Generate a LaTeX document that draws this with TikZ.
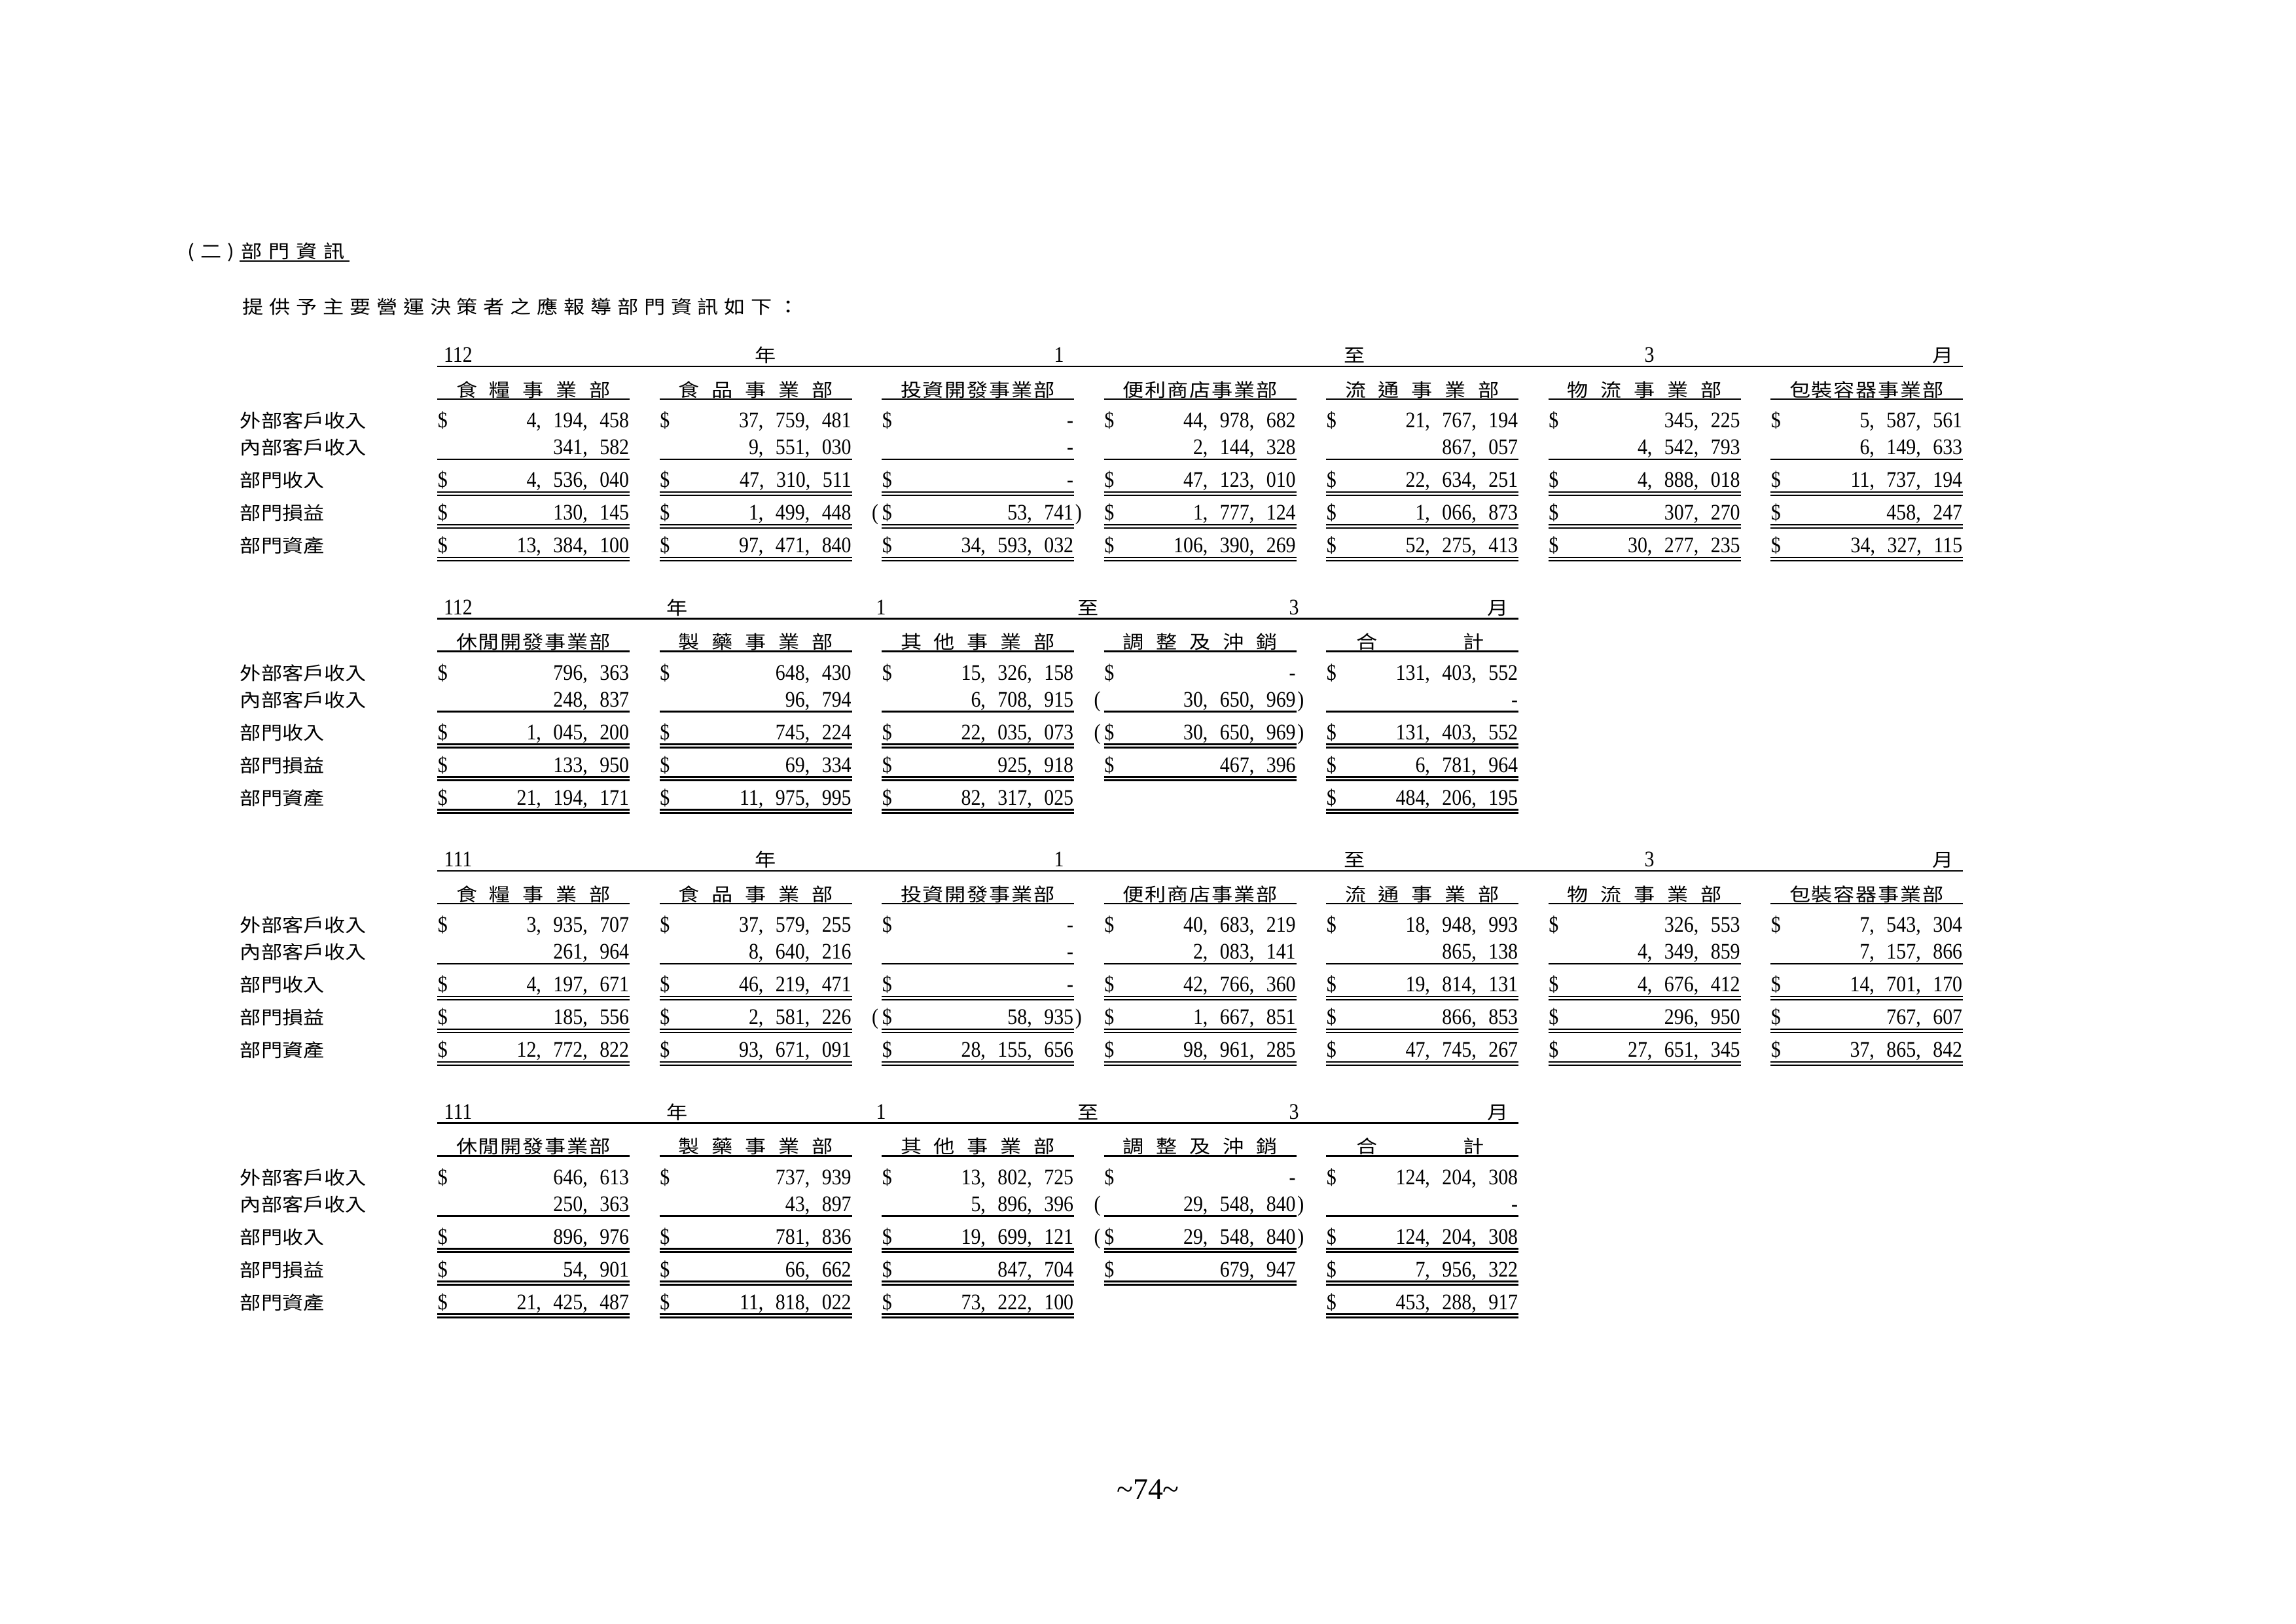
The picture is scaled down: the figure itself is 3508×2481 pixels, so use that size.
\documentclass[tikz,border=0pt]{standalone}
\usepackage{fontspec}
\setmainfont{Liberation Serif}
\newfontfamily\numf[FakeStretch=0.88]{Liberation Serif}
\newfontfamily\cjk[FakeStretch=1.15]{Noto Sans CJK TC}
\ExplSyntaxOn
\NewDocumentCommand\nm{m}{\tl_set:Nn\l_tmpa_tl{#1}\tl_replace_all:Nnn\l_tmpa_tl{,}{,\kern4.44pt}\tl_use:N\l_tmpa_tl}
\NewDocumentCommand\spr{mm}{\makebox[#1][s]{\exp_args:No\tl_map_inline:nn{#2}{##1\hfill}\unskip}}
\ExplSyntaxOff
\tikzset{
  numtxt/.style={inner sep=0pt, font=\numf\fontsize{8.16pt}{9pt}\selectfont},
  nr/.style={numtxt, anchor=base east},
  nl/.style={numtxt, anchor=base west},
  nc/.style={numtxt, anchor=base},
  cj/.style={inner sep=0pt, font=\cjk\fontsize{6.72pt}{8pt}\selectfont},
  cjl/.style={cj, anchor=base west},
  cjc/.style={cj, anchor=base},
  rule/.style={line width=0.5pt},
  hrule/.style={line width=0.65pt}
}
% cell commands (use \cs, \ce, \Y, \Tn, \Rn, \i)
\newcommand\Dsign{\node[nl] (s\Tn\Rn\i) at (\cs,\Y) {\$};}
\newcommand\D[1]{\Dsign\node[nr] (v\Tn\Rn\i) at (\ce,\Y) {\nm{#1}};}
\newcommand\Pv[1]{\node[nr] (v\Tn\Rn\i) at (\ce,\Y) {\nm{#1}};}
\newcommand\Zv{\node[nr] (v\Tn\Rn\i) at (\ce,\Y) {-};}
\newcommand\Dz{\Dsign\Zv}
\newcommand\Op{\node[nr] (o\Tn\Rn\i) at ({\cs-4},\Y) {(};}
\newcommand\Cp{\node[nl] (c\Tn\Rn\i) at ({\ce+1},\Y) {)};}
\newcommand\Dn[1]{\Op\D{#1}\Cp}
\newcommand\Pn[1]{\Op\Pv{#1}\Cp}
\newcommand\Ec{}
\newcommand\Row[4]{\def\Tn{#1}\def\Rn{#2}\pgfmathsetmacro\Y{#3+385.5*#1}%
  \foreach[count=\i from 0] \cell in {#4}{\pgfmathsetmacro\cs{668+339.5*\i}\pgfmathsetmacro\ce{\cs+294}\cell}}
\newcommand\Labels[1]{\foreach[count=\r from 0] \lab/\yb in {外部客戶收入/653.5,內部客戶收入/694.5,部門收入/744.5,部門損益/794.5,部門資產/844.5}{\node[cjl] (l#1\r) at (366,{\yb+385.5*#1}) {\lab};}}
\newcommand\Rules[3]{\pgfmathsetmacro\off{385.5*#1}\pgfmathsetmacro\xe{668+339.5*#2+294}%
  \draw[hrule] (668,560+\off) -- (\xe,560+\off);
  \foreach \k in {0,...,#2}{\pgfmathsetmacro\xa{668+339.5*\k}\pgfmathsetmacro\xb{\xa+294}%
    \foreach \yy in {610,702,752,757,802,807}{\draw[rule] (\xa,\yy+\off) -- (\xb,\yy+\off);}}
  \foreach \k in {#3}{\pgfmathsetmacro\xa{668+339.5*\k}\pgfmathsetmacro\xb{\xa+294}%
    \foreach \yy in {852,857}{\draw[rule] (\xa,\yy+\off) -- (\xb,\yy+\off);}}}
\newcommand\WideHead[2]{\pgfmathsetmacro\yy{553.5+385.5*#1}\pgfmathsetmacro\yc{606+385.5*#1}%
  \node[nc] (y#1a) at (700,\yy) {#2};
  \node[cjc] (y#1b) at (1170,\yy) {年};
  \node[nc] (y#1c) at (1618,\yy) {1};
  \node[cjc] (y#1d) at (2070,\yy) {至};
  \node[nc] (y#1e) at (2520,\yy) {3};
  \node[cjc] (y#1f) at (2969,\yy) {月};
  \node[cjc] (h#1a) at (815,\yc) {\spr{56.64pt}{食糧事業部}};
  \node[cjc] (h#1b) at (1154.5,\yc) {\spr{56.64pt}{食品事業部}};
  \node[cjc] (h#1c) at (1494,\yc) {\spr{56.64pt}{投資開發事業部}};
  \node[cjc] (h#1d) at (1833.5,\yc) {\spr{56.64pt}{便利商店事業部}};
  \node[cjc] (h#1e) at (2173,\yc) {\spr{56.64pt}{流通事業部}};
  \node[cjc] (h#1f) at (2512.5,\yc) {\spr{56.64pt}{物流事業部}};
  \node[cjc] (h#1g) at (2852,\yc) {\spr{56.64pt}{包裝容器事業部}};}
\newcommand\NarrowHead[2]{\pgfmathsetmacro\yy{553.5+385.5*#1}\pgfmathsetmacro\yc{606+385.5*#1}%
  \node[nc] (y#1a) at (700,\yy) {#2};
  \node[cjc] (y#1b) at (1035,\yy) {年};
  \node[nc] (y#1c) at (1346,\yy) {1};
  \node[cjc] (y#1d) at (1663,\yy) {至};
  \node[nc] (y#1e) at (1977,\yy) {3};
  \node[cjc] (y#1f) at (2289,\yy) {月};
  \node[cjc] (h#1a) at (815,\yc) {\spr{56.64pt}{休閒開發事業部}};
  \node[cjc] (h#1b) at (1154.5,\yc) {\spr{56.64pt}{製藥事業部}};
  \node[cjc] (h#1c) at (1494,\yc) {\spr{56.64pt}{其他事業部}};
  \node[cjc] (h#1d) at (1833.5,\yc) {\spr{56.64pt}{調整及沖銷}};
  \node[cjc] (h#1e) at (2170,\yc) {\spr{47pt}{合計}};}
\begin{document}
\begin{tikzpicture}[x=0.24pt,y=-0.24pt]
\useasboundingbox (0,0) rectangle (3508,2481);
\fill[white] (0,0) rectangle (3508,2481);
% title
\node[cjl] (t1) at (286,394) {\spr{17.28pt}{(二)}};
\node[cjl] (t2) at (368,394) {\spr{37.92pt}{部門資訊}};
\draw[rule] (t2.base west) ++(-2,5) -- ++(168,0);
\node[cjl] (t3) at (370,479) {\spr{204pt}{提供予主要營運決策者之應報導部門資訊如下：}};
% headers
\WideHead{0}{112}
\NarrowHead{1}{112}
\WideHead{2}{111}
\NarrowHead{3}{111}
\Labels{0}\Labels{1}\Labels{2}\Labels{3}
\Rules{0}{6}{0,1,2,3,4,5,6}
\Rules{1}{4}{0,1,2,4}
\Rules{2}{6}{0,1,2,3,4,5,6}
\Rules{3}{4}{0,1,2,4}
% table 1
\Row{0}{0}{653.5}{{\D{4,194,458}},{\D{37,759,481}},{\Dz},{\D{44,978,682}},{\D{21,767,194}},{\D{345,225}},{\D{5,587,561}}}
\Row{0}{1}{694.5}{{\Pv{341,582}},{\Pv{9,551,030}},{\Zv},{\Pv{2,144,328}},{\Pv{867,057}},{\Pv{4,542,793}},{\Pv{6,149,633}}}
\Row{0}{2}{744.5}{{\D{4,536,040}},{\D{47,310,511}},{\Dz},{\D{47,123,010}},{\D{22,634,251}},{\D{4,888,018}},{\D{11,737,194}}}
\Row{0}{3}{794.5}{{\D{130,145}},{\D{1,499,448}},{\Dn{53,741}},{\D{1,777,124}},{\D{1,066,873}},{\D{307,270}},{\D{458,247}}}
\Row{0}{4}{844.5}{{\D{13,384,100}},{\D{97,471,840}},{\D{34,593,032}},{\D{106,390,269}},{\D{52,275,413}},{\D{30,277,235}},{\D{34,327,115}}}
% table 2
\Row{1}{0}{653.5}{{\D{796,363}},{\D{648,430}},{\D{15,326,158}},{\Dz},{\D{131,403,552}}}
\Row{1}{1}{694.5}{{\Pv{248,837}},{\Pv{96,794}},{\Pv{6,708,915}},{\Pn{30,650,969}},{\Zv}}
\Row{1}{2}{744.5}{{\D{1,045,200}},{\D{745,224}},{\D{22,035,073}},{\Dn{30,650,969}},{\D{131,403,552}}}
\Row{1}{3}{794.5}{{\D{133,950}},{\D{69,334}},{\D{925,918}},{\D{467,396}},{\D{6,781,964}}}
\Row{1}{4}{844.5}{{\D{21,194,171}},{\D{11,975,995}},{\D{82,317,025}},{\Ec},{\D{484,206,195}}}
% table 3
\Row{2}{0}{653.5}{{\D{3,935,707}},{\D{37,579,255}},{\Dz},{\D{40,683,219}},{\D{18,948,993}},{\D{326,553}},{\D{7,543,304}}}
\Row{2}{1}{694.5}{{\Pv{261,964}},{\Pv{8,640,216}},{\Zv},{\Pv{2,083,141}},{\Pv{865,138}},{\Pv{4,349,859}},{\Pv{7,157,866}}}
\Row{2}{2}{744.5}{{\D{4,197,671}},{\D{46,219,471}},{\Dz},{\D{42,766,360}},{\D{19,814,131}},{\D{4,676,412}},{\D{14,701,170}}}
\Row{2}{3}{794.5}{{\D{185,556}},{\D{2,581,226}},{\Dn{58,935}},{\D{1,667,851}},{\D{866,853}},{\D{296,950}},{\D{767,607}}}
\Row{2}{4}{844.5}{{\D{12,772,822}},{\D{93,671,091}},{\D{28,155,656}},{\D{98,961,285}},{\D{47,745,267}},{\D{27,651,345}},{\D{37,865,842}}}
% table 4
\Row{3}{0}{653.5}{{\D{646,613}},{\D{737,939}},{\D{13,802,725}},{\Dz},{\D{124,204,308}}}
\Row{3}{1}{694.5}{{\Pv{250,363}},{\Pv{43,897}},{\Pv{5,896,396}},{\Pn{29,548,840}},{\Zv}}
\Row{3}{2}{744.5}{{\D{896,976}},{\D{781,836}},{\D{19,699,121}},{\Dn{29,548,840}},{\D{124,204,308}}}
\Row{3}{3}{794.5}{{\D{54,901}},{\D{66,662}},{\D{847,704}},{\D{679,947}},{\D{7,956,322}}}
\Row{3}{4}{844.5}{{\D{21,425,487}},{\D{11,818,022}},{\D{73,222,100}},{\Ec},{\D{453,288,917}}}
% page number
\node[anchor=base, inner sep=0pt, font=\fontsize{11pt}{12pt}\selectfont] (pg) at (1754,2291) {\textasciitilde74\textasciitilde};
\end{tikzpicture}
\end{document}
